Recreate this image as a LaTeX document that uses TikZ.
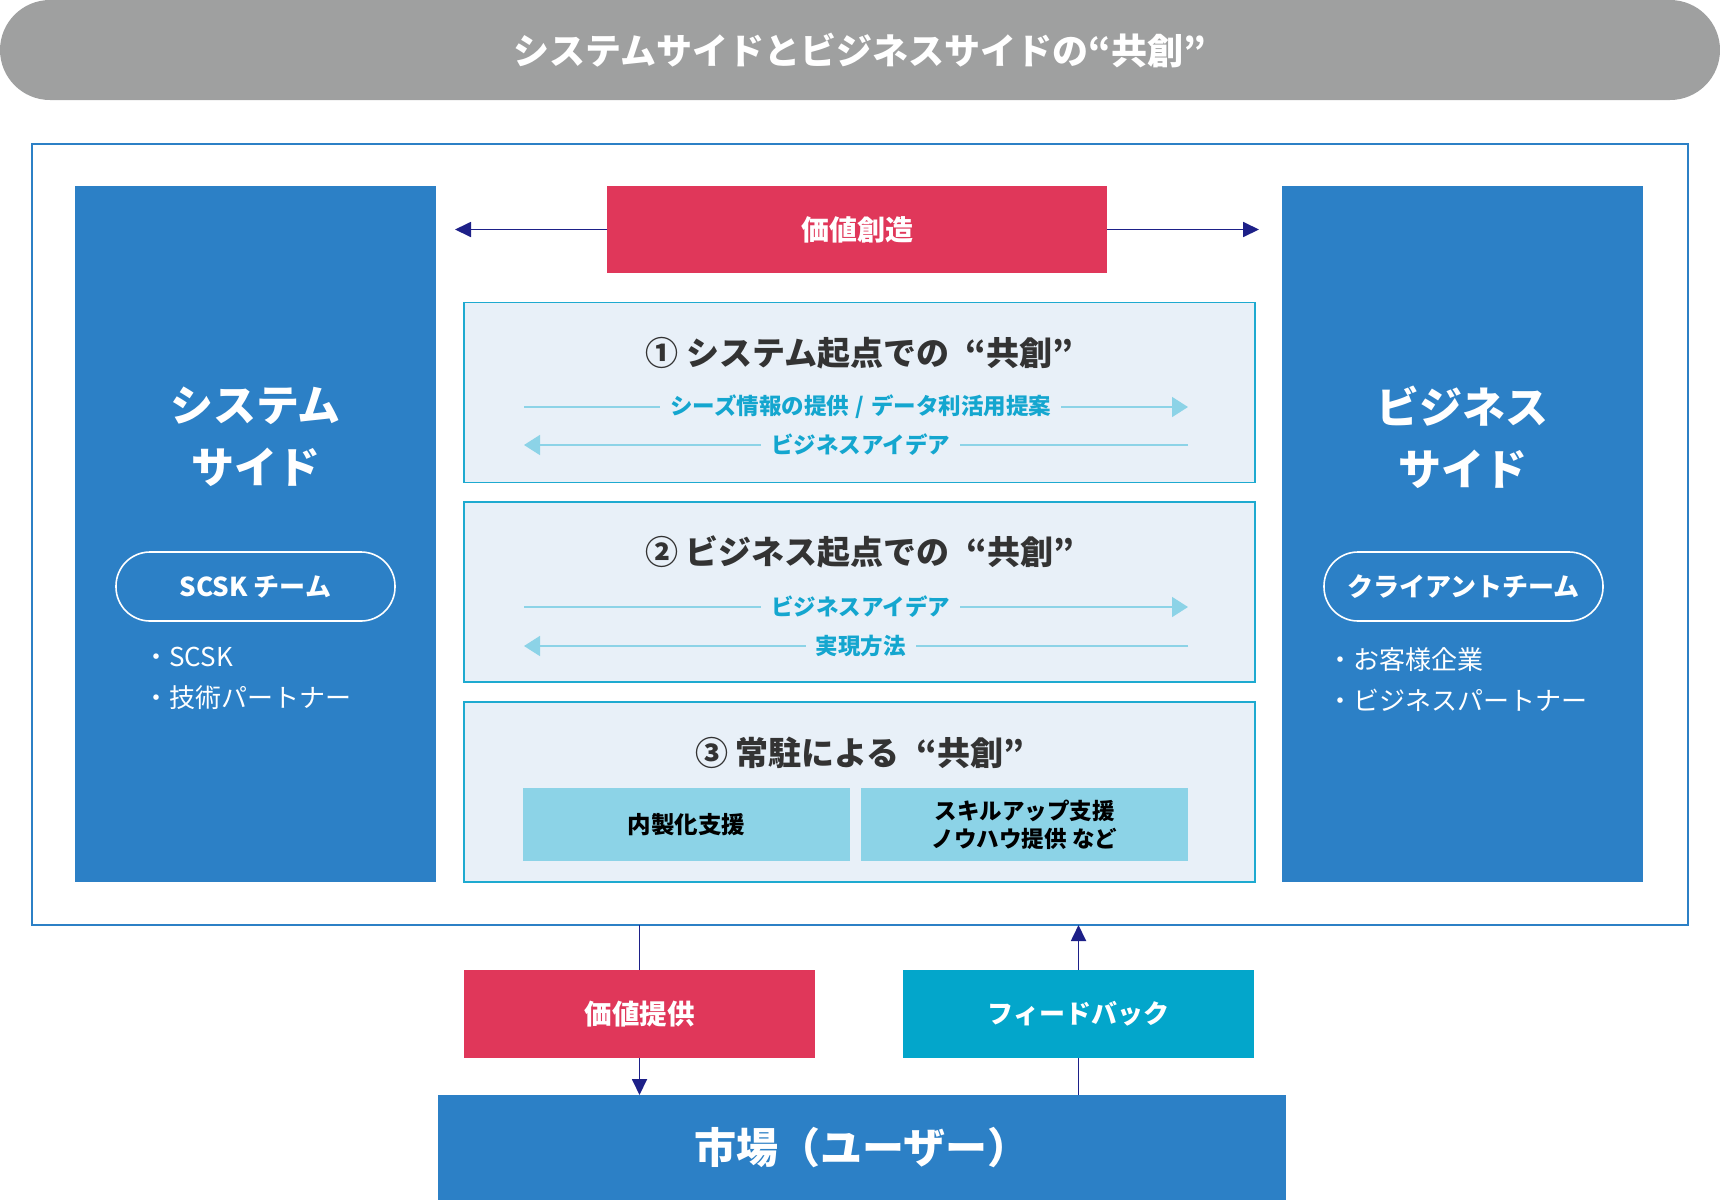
\documentclass[tikz,border=0pt]{standalone}
\usepackage{fontspec}
\setmainfont{Noto Sans CJK JP}
\usetikzlibrary{positioning,calc,arrows.meta}

\definecolor{bannergray}{HTML}{9FA0A0}
\definecolor{sideblue}{HTML}{2C80C6}
\definecolor{valuered}{HTML}{E0375A}
\definecolor{fbteal}{HTML}{03A6CB}
\definecolor{navy}{HTML}{1D2088}
\definecolor{panelfill}{HTML}{E8F0F8}
\definecolor{panelline}{HTML}{1EAAD0}
\definecolor{lightarrow}{HTML}{8CD3E7}
\definecolor{cyantext}{HTML}{14A6CF}
\definecolor{titlegray}{HTML}{333333}

\begin{document}
\begin{tikzpicture}[x=1pt,y=-1pt,
  box/.style={inner sep=0pt,outer sep=0pt,align=center,text=white,font=\bfseries},
  sidebox/.style={box,fill=sideblue,minimum width=361pt,minimum height=696pt},
  pill/.style={box,draw=white,line width=1.6pt,rounded corners=34pt,minimum width=279pt,minimum height=69pt,font=\fontsize{26}{30}\selectfont\bfseries},
  bullets/.style={inner sep=0pt,anchor=north west,align=left,text=white,font=\fontsize{26}{41}\selectfont},
  panel/.style={inner sep=0pt,outer sep=0pt,draw=panelline,line width=1.8pt,fill=panelfill,minimum width=791pt,minimum height=180pt},
  ptitle/.style={inner sep=0pt,text=titlegray,font=\fontsize{33}{36}\selectfont\bfseries},
  flow/.style={draw=lightarrow,line width=1.6pt},
  flowtip/.style={flow,-{Triangle[length=16pt,width=20pt]}},
  flowlabel/.style={fill=panelfill,inner xsep=10pt,inner ysep=2pt,text=cyantext,font=\fontsize{22.5}{26}\selectfont\bfseries},
  subbox/.style={box,fill=lightarrow,text=black,minimum width=327pt,minimum height=73pt,font=\fontsize{23.5}{27}\selectfont\bfseries},
  link/.style={draw=navy,line width=1.8pt},
  linktip/.style={link,-{Triangle[length=16pt,width=15pt]}}]
\useasboundingbox (0,0) rectangle (1720,1200);

% title bar
\node[box,fill=bannergray,rounded corners=50pt,minimum width=1720pt,minimum height=100pt,
  font=\fontsize{36}{40}\selectfont\bfseries] (head) at (860,50) {システムサイドとビジネスサイドの“共創”};

% frame and the two sides
\node[draw=sideblue,line width=1.4pt,inner sep=0pt,outer sep=0pt,minimum width=1656pt,minimum height=781pt] (frame) at (860,534.5) {};
\node[sidebox] (sys) at (255.5,534) {};
\node[sidebox] (biz) at (1462.5,534) {};

\node[box,font=\fontsize{43}{62}\selectfont\bfseries] (systitle) at (255.5,437) {システム\\サイド};
\node[pill] (systeam) at (255.5,586.5) {SCSK チーム};
\node[bullets] (sysmem) at (143,647) {・SCSK\\・技術パートナー};

\node[box,font=\fontsize{43}{62}\selectfont\bfseries] (biztitle) at (1462.5,437) {ビジネス\\サイド};
\node[pill] (bizteam) at (1463.5,586.5) {クライアントチーム};
\node[bullets] (bizmem) at (1327,647) {・お客様企業\\・ビジネスパートナー};

% value creation
\node[box,fill=valuered,minimum width=500pt,minimum height=87pt,font=\fontsize{28}{32}\selectfont\bfseries] (create) at (857,229.5) {価値創造};
\coordinate (createL) at (455,229.5);
\coordinate (createR) at (1259,229.5);
\draw[linktip] (create.west) -- (createL);
\draw[linktip] (create.east) -- (createR);

% panel 1
\node[panel] (p1) at (859.5,392.5) {};
\node[ptitle] (p1t) at (859.5,353) {① システム起点での\hspace{0.5em}“共創”};
\coordinate (p1aL) at (524,407); \coordinate (p1aR) at (1188,407);
\coordinate (p1bL) at (524,445); \coordinate (p1bR) at (1188,445);
\draw[flowtip] (p1aL) -- (p1aR) node[flowlabel,pos=0.507] (p1a) {シーズ情報の提供\hspace{0.3em}/\hspace{0.3em}データ利活用提案};
\draw[flowtip] (p1bR) -- (p1bL) node[flowlabel,pos=0.493] (p1b) {ビジネスアイデア};

% panel 2
\node[panel] (p2) at (859.5,592) {};
\node[ptitle] (p2t) at (859.5,552) {② ビジネス起点での\hspace{0.5em}“共創”};
\coordinate (p2aL) at (524,607); \coordinate (p2aR) at (1188,607);
\coordinate (p2bL) at (524,646); \coordinate (p2bR) at (1188,646);
\draw[flowtip] (p2aL) -- (p2aR) node[flowlabel,pos=0.507] (p2a) {ビジネスアイデア};
\draw[flowtip] (p2bR) -- (p2bL) node[flowlabel,pos=0.493] (p2b) {実現方法};

% panel 3
\node[panel] (p3) at (859.5,792) {};
\node[ptitle] (p3t) at (859.5,753) {③ 常駐による\hspace{0.5em}“共創”};
\node[subbox] (inhouse) at (686.5,824.5) {内製化支援};
\node[subbox,font=\fontsize{22.5}{28}\selectfont\bfseries] (skill) at (1024.5,824.5) {スキルアップ支援\\ノウハウ提供 など};

% market
\node[box,fill=sideblue,minimum width=848pt,minimum height=105pt,font=\fontsize{42}{46}\selectfont\bfseries] (market) at (862,1147.5) {市場（ユーザー）};
\node[box,fill=valuered,minimum width=351pt,minimum height=88pt,font=\fontsize{27.5}{31}\selectfont\bfseries] (provide) at (639.5,1014) {価値提供};
\node[box,fill=fbteal,minimum width=351pt,minimum height=88pt,font=\fontsize{26}{30}\selectfont\bfseries] (feedback) at (1078.5,1014) {フィードバック};

\draw[link] (provide.north |- frame.south) -- (provide.north);
\draw[linktip] (provide.south) -- (provide.south |- market.north);
\draw[link] (feedback.south |- market.north) -- (feedback.south);
\draw[linktip] (feedback.north) -- (feedback.north |- frame.south);

\end{tikzpicture}
\end{document}
